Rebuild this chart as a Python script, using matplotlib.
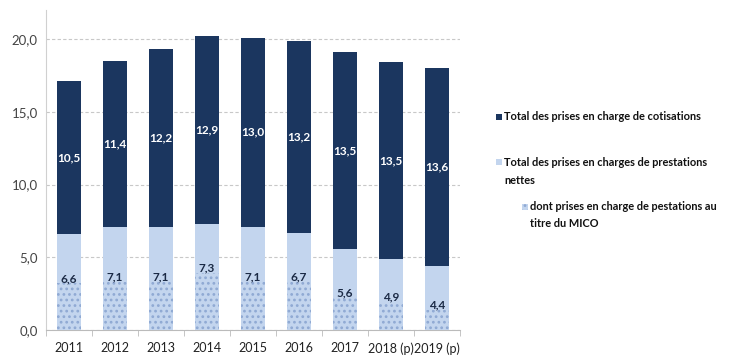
import numpy as np
import matplotlib
matplotlib.use('Agg')
import matplotlib.pyplot as plt
from matplotlib.patches import Rectangle

plt.rcParams['font.family'] = ['Lato', 'DejaVu Sans']
plt.rcParams['hatch.linewidth'] = 1.2

years = ['2011', '2012', '2013', '2014', '2015', '2016', '2017', '2018 (p)', '2019 (p)']
prestations = [6.6, 7.1, 7.1, 7.3, 7.1, 6.7, 5.6, 4.9, 4.4]
cotisations = [10.5, 11.4, 12.2, 12.9, 13.0, 13.2, 13.5, 13.5, 13.6]
mico = [3.2, 3.3, 3.3, 3.9, 3.3, 3.3, 2.2, 1.9, 1.4]

navy = '#1b365f'
light = '#c3d5ee'
dots = '#8fa9d3'

fig = plt.figure(figsize=(7.56, 3.55), dpi=100)
ax = fig.add_axes([46/756, 1 - 330/355, 414/756, 320/355])

x = np.arange(len(years))
w = 0.53

ax.bar(x, prestations, w, color=light, zorder=2)
ax.bar(x, mico, w, color=light, hatch='...', edgecolor=dots, linewidth=0, zorder=3)
ax.bar(x, cotisations, w, bottom=prestations, color=navy, zorder=2)

for i in range(len(years)):
    ax.text(x[i], prestations[i] + cotisations[i] / 2, f'{cotisations[i]:.1f}'.replace('.', ','),
            ha='center', va='center', color='white', fontsize=8.5, fontweight='bold', zorder=4)
    ax.text(x[i], mico[i] + 0.35, f'{prestations[i]:.1f}'.replace('.', ','),
            ha='center', va='center', color='#1b2a45', fontsize=8.5, fontweight='bold', zorder=4)

ax.set_xlim(-0.5, len(years) - 0.5)
ax.set_ylim(0, 22)
ax.set_yticks([0, 5, 10, 15, 20])
ax.set_yticklabels(['0,0', '5,0', '10,0', '15,0', '20,0'])
ax.set_xticks(x)
ax.set_xticklabels(years)
ax.set_xticks(np.arange(-0.5, len(years), 1), minor=True)
ax.tick_params(axis='x', which='major', length=0, pad=9, labelsize=9, colors='#222222')
ax.tick_params(axis='x', which='minor', length=4, color='#bbbbbb')
ax.tick_params(axis='y', length=0, pad=6, labelsize=9.5, colors='#444444')
ax.yaxis.grid(True, linestyle=(0, (3, 2)), color='#c8c8c8', linewidth=0.8, zorder=0)
for s in ['top', 'right']:
    ax.spines[s].set_visible(False)
ax.spines['left'].set_color('#d0d0d0')
ax.spines['bottom'].set_color('#bbbbbb')

# legend
def sq(px, py, color, hatch=None):
    fig.patches.append(Rectangle((px / 756, 1 - (py + 3) / 355), 6 / 756, 6 / 355,
                                 transform=fig.transFigure, facecolor=color,
                                 hatch=hatch, edgecolor=dots if hatch else 'none', linewidth=0))

tkw = dict(fontsize=7.9, fontweight='bold', color='#111111', va='center')
sq(496, 117, navy)
fig.text(504 / 756, 1 - 117 / 355, 'Total des prises en charge de cotisations', **tkw)
sq(496, 162, light)
fig.text(504 / 756, 1 - 162 / 355, 'Total des prises en charges de prestations', **tkw)
fig.text(504 / 756, 1 - 180 / 355, 'nettes', **tkw)
sq(522, 207, light, hatch='...')
fig.text(530 / 756, 1 - 207 / 355, 'dont prises en charge de pestations au', **tkw)
fig.text(530 / 756, 1 - 223 / 355, 'titre du MICO', **tkw)

fig.savefig('out.png', dpi=100)
